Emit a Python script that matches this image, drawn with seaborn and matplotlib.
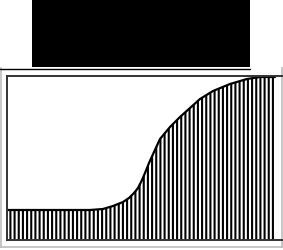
import matplotlib
matplotlib.use('Agg')
import matplotlib.pyplot as plt
import seaborn as sns
import pandas as pd
from matplotlib.patches import Rectangle
from matplotlib.lines import Line2D

# curve (x along the box, height above the bottom)
curve_x = [1, 83, 96, 106, 116, 122, 127, 131, 135, 138, 142, 147, 153, 163, 173, 183, 193, 206, 223, 240, 253, 268]
curve_y = [30, 30, 31, 34, 38, 42, 47, 52, 60, 67, 77, 88, 101, 113, 123, 132, 141, 149, 156, 161, 163, 163]

sns.set_style('white')
plt.rcParams['hatch.linewidth'] = 1.5

W, H = 283, 250
fig = plt.figure(figsize=(W / 100, H / 100), dpi=100)

# outer light frame
outer = fig.add_axes([0.5 / W, 3 / H, 281.5 / W, 179 / H])
outer.set_xticks([])
outer.set_yticks([])
for s in ['left', 'right', 'bottom']:
    outer.spines[s].set_color('#bdbdbd')
    outer.spines[s].set_linewidth(1.2)
outer.spines['top'].set_visible(False)

# inner box with the curve
ax = fig.add_axes([7 / W, 10 / H, 275 / W, 164 / H])
ax.patch.set_alpha(0)
df = pd.DataFrame({'x': curve_x, 'y': curve_y})
ax.fill_between(df['x'], 0, df['y'], facecolor='none', edgecolor='black',
                linewidth=0, hatch='||||')
sns.lineplot(data=df, x='x', y='y', ax=ax, color='black', linewidth=1.6)
ax.set_xlim(0, 275)
ax.set_ylim(0, 164)
ax.set_xticks([])
ax.set_yticks([])
ax.set_xlabel('')
ax.set_ylabel('')
for s in ['left', 'top', 'bottom']:
    ax.spines[s].set_color('#333333')
    ax.spines[s].set_linewidth(1.4)
ax.spines['right'].set_visible(False)

# black block on top and the line under it
fig.patches.append(Rectangle((32 / W, 183 / H), 218 / W, 67 / H,
                             transform=fig.transFigure, facecolor='black',
                             edgecolor='none'))
fig.lines.append(Line2D([0, 250 / W], [181.5 / H, 181.5 / H],
                        transform=fig.transFigure, color='black', linewidth=1.0))

fig.savefig('out.png', dpi=100)
